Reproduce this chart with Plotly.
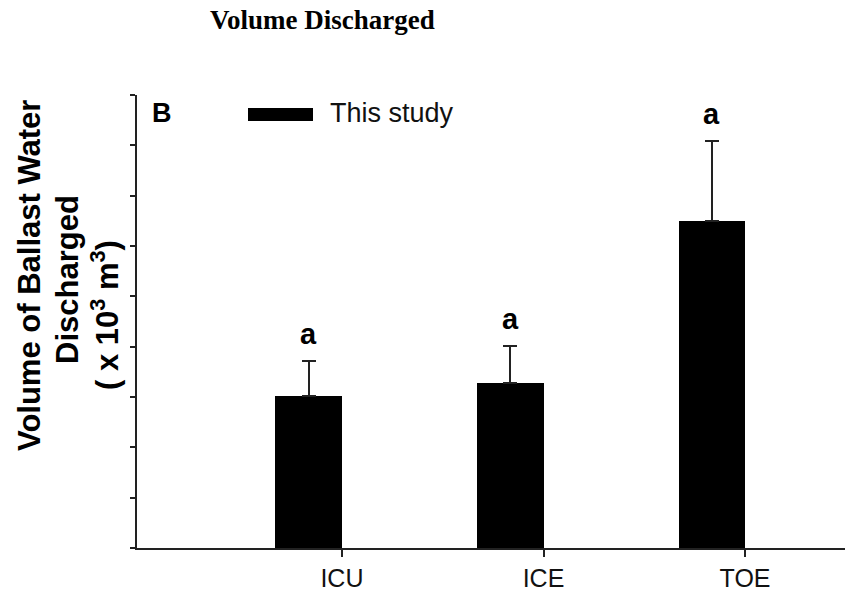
import plotly.graph_objects as go

# Ballast water volume discharged, by vessel category
categories = ["ICU", "ICE", "TOE"]
volume = [3.02, 3.28, 6.50]          # mean, x 10^3 m^3
volume_err = [0.70, 0.74, 1.59]      # upper error
group_letters = ["a", "a", "a"]
series_name = "This study"

W, H = 845, 591
L, R, T, B = 137, 0, 95, 43
plot_w = W - L - R
plot_h = H - T - B

def px_x(p):
    return (p - L) / plot_w

def px_y(p):
    return (H - B - p) / plot_h

bar_width = 0.33
bar_offset = -bar_width

fig = go.Figure()
fig.add_trace(go.Bar(
    x=categories,
    y=volume,
    name=series_name,
    width=bar_width,
    offset=bar_offset,
    marker=dict(color="black", line=dict(width=0)),
    error_y=dict(type="data", array=volume_err, symmetric=False,
                 arrayminus=[0] * len(volume),
                 color="#222222", thickness=2, width=7),
    showlegend=False,
))

annotations = []
# significance letters above each error bar
for i, (v, e, lab) in enumerate(zip(volume, volume_err, group_letters)):
    annotations.append(dict(
        x=i + bar_offset + bar_width / 2, y=v + e, xref="x", yref="y",
        text=f"<b>{lab}</b>", showarrow=False, yanchor="middle", yshift=27,
        font=dict(family="Liberation Sans", size=29, color="black"),
    ))

# panel label and legend key
annotations.append(dict(
    x=px_x(150), y=px_y(113), xref="paper", yref="paper", xanchor="left",
    yanchor="middle", text="<b>B</b>", showarrow=False,
    font=dict(family="Liberation Sans", size=27, color="black"),
))
annotations.append(dict(
    x=px_x(328), y=px_y(113), xref="paper", yref="paper", xanchor="left",
    yanchor="middle", text=series_name, showarrow=False,
    font=dict(family="Liberation Sans", size=27, color="#111111"),
))

# chart title
annotations.append(dict(
    x=px_x(322), y=px_y(20), xref="paper", yref="paper", xanchor="center",
    yanchor="middle", text="<b>Volume Discharged</b>", showarrow=False,
    font=dict(family="Liberation Serif", size=27, color="black"),
))

# y-axis title, three rotated lines
ytitle_lines = [
    ("Volume of Ballast Water", 29, 276),
    ("Discharged", 67, 280),
    ("( x 10<sup>3</sup> m<sup>3</sup>)", 105, 315),
]
for txt, cx, cy in ytitle_lines:
    annotations.append(dict(
        x=px_x(cx), y=px_y(cy), xref="paper", yref="paper",
        xanchor="center", yanchor="middle", textangle=-90,
        text=f"<b>{txt}</b>", showarrow=False,
        font=dict(family="Liberation Sans", size=31, color="black"),
    ))

shapes = [dict(
    type="rect", xref="paper", yref="paper",
    x0=px_x(248), x1=px_x(313), y0=px_y(121), y1=px_y(108),
    fillcolor="black", line=dict(width=0),
)]

fig.update_layout(
    width=W, height=H,
    margin=dict(l=L, r=R, t=T, b=B, pad=0, autoexpand=False),
    paper_bgcolor="white", plot_bgcolor="white",
    annotations=annotations, shapes=shapes,
    bargap=0,
    xaxis=dict(
        type="category", range=[-1.017, 2.496], automargin=False,
        showline=True, linecolor="#222222", linewidth=1.5,
        ticks="outside", ticklen=7, tickwidth=1.5, tickcolor="#222222",
        showgrid=False, zeroline=False,
        tickfont=dict(family="Liberation Sans", size=25, color="#111111"),
        ticklabelstandoff=0,
    ),
    yaxis=dict(
        range=[0, 9], tickmode="linear", tick0=0, dtick=1, automargin=False,
        showline=True, linecolor="#222222", linewidth=1.5,
        ticks="outside", ticklen=5, tickwidth=1.5, tickcolor="#222222",
        showticklabels=False, showgrid=False, zeroline=False,
    ),
)

fig.write_html("out.html")
